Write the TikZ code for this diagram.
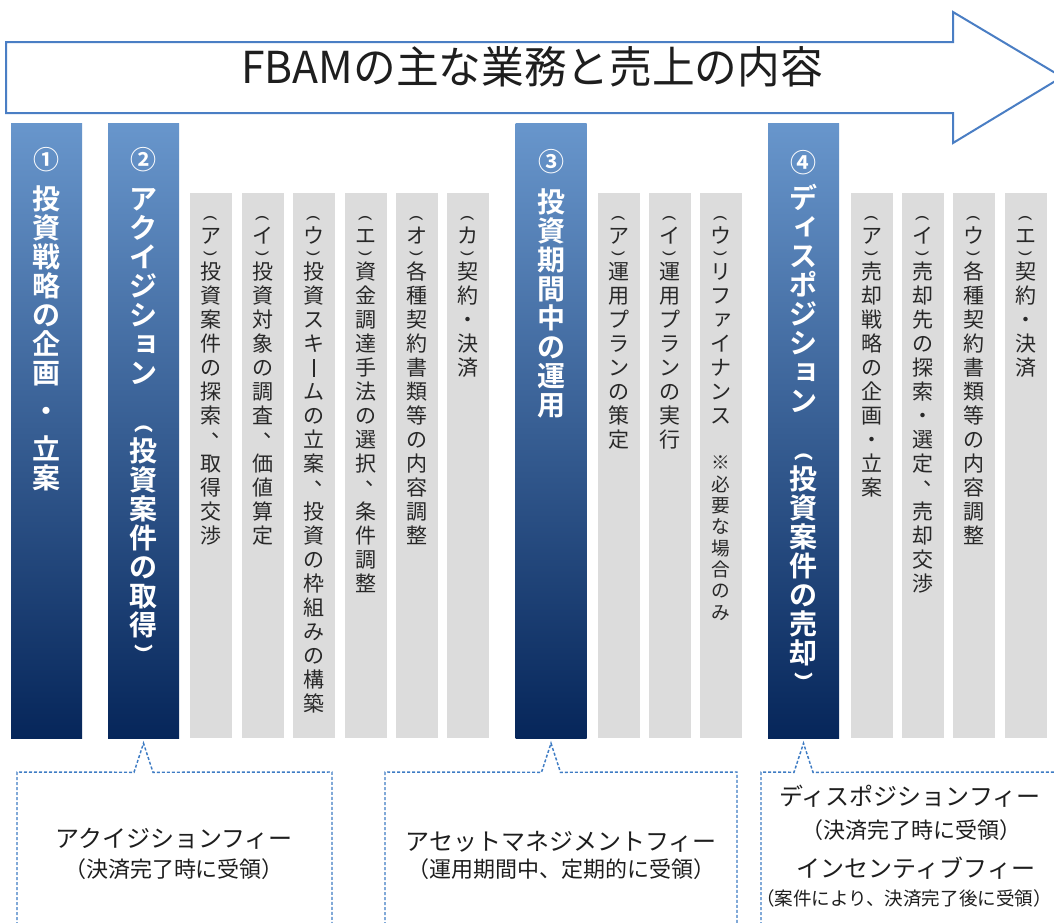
\documentclass[tikz,border=0pt]{standalone}
\usepackage{fontspec}
\usepackage{graphicx}
\usetikzlibrary{calc}
\newfontfamily\jp{Noto Sans CJK JP}
\newfontfamily\jpb{Noto Sans CJK JP Bold}
\definecolor{arrowblue}{RGB}{74,126,196}
\definecolor{dashblue}{RGB}{62,124,196}
\definecolor{coltop}{RGB}{104,150,204}
\definecolor{colbot}{RGB}{6,38,90}
\definecolor{graycol}{RGB}{220,220,220}
\definecolor{graytext}{RGB}{40,40,40}
\definecolor{ink}{RGB}{30,30,30}
\newdimen\vpitch
\newsavebox\vgbox
\def\barwd{0.07em}
% one cell of vertical text: #1 cell height, #2 raise of glyph baseline, #3 glyph
\newcommand\vcell[3]{\hbox to 0pt{\hss\vrule width 0pt height #1 depth 0pt\relax\smash{\raise #2\hbox{#3}}\hss}}
\newcommand\vnorm[1]{\vcell{\vpitch}{\dimexpr0.5\vpitch-0.38em\relax}{#1}}
\newcommand\vbotcell[3]{\sbox\vgbox{#3}\vcell{#1}{\dimexpr#2+\dp\vgbox\relax}{\usebox\vgbox}}
\newcommand\vtopcell[3]{\sbox\vgbox{#3}\vcell{#1}{\dimexpr#1-#2-\ht\vgbox\relax}{\usebox\vgbox}}
% vertical forms
\newcommand\vparenO{\rotatebox{-90}{\scalebox{1}[0.62]{(}}}
\newcommand\vparenC{\rotatebox{-90}{\scalebox{1}[0.62]{)}}}
\newcommand\vO{\vbotcell{0.5\vpitch}{0.1\vpitch}{\vparenO}}
\newcommand\vC{\vtopcell{0.5\vpitch}{0.1\vpitch}{\vparenC}}
\newcommand\vOb{\vbotcell{\vpitch}{0.1\vpitch}{\vparenO}}
\newcommand\vCb{\vtopcell{\vpitch}{0.12\vpitch}{\vparenC}}
\newcommand\vL{\vcell{\vpitch}{\dimexpr0.5\vpitch-0.38em\relax}{\vrule width \barwd height 0.79em depth 0.03em}}
\newcommand\vT{\vcell{\vpitch}{\dimexpr0.5\vpitch+0.12em\relax}{\kern1em 、}}
\newcommand\vsmallkana[1]{\vcell{\vpitch}{\dimexpr0.5\vpitch-0.26em\relax}{\kern0.22em#1}}
\newcommand\vsA{\vsmallkana{ァ}}
\newcommand\vsI{\vsmallkana{ィ}}
\newcommand\vsYo{\vsmallkana{ョ}}
\newcommand\vD{\vcell{1.6\vpitch}{\dimexpr0.8\vpitch-0.38em\relax}{・}}
\newcommand\vG{\vcell{0.7\vpitch}{0pt}{}}
\ExplSyntaxOn
\NewDocumentCommand \vstack { s O{18pt} m }
  {
    \vbox
      {
        \offinterlineskip
        \dim_set:Nn \vpitch {#2}
        \IfBooleanTF {#1} { \def\barwd{0.12em} } { \def\barwd{0.07em} }
        \tl_map_inline:nn {#3}
          {
            \token_if_cs:NTF ##1 { ##1 } { \vnorm {##1} }
          }
      }
  }
\ExplSyntaxOff
\tikzset{
  x=0.75pt, y=-0.75pt,
  arrowline/.style={draw=arrowblue, line width=1.5pt, fill=white, line join=miter},
  bluecol/.style={shade, top color=coltop, bottom color=colbot, inner sep=0pt,
    minimum width={71*0.75pt}, minimum height={615*0.75pt}},
  graycolumn/.style={fill=graycol, inner sep=0pt,
    minimum width={42*0.75pt}, minimum height={545*0.75pt}},
  numtxt/.style={inner sep=0pt, text=white, font=\jpb\fontsize{19.5pt}{20pt}\selectfont},
  bluetxt/.style={anchor=north, inner sep=0pt, text=white,
    font=\jpb\fontsize{21pt}{21pt}\selectfont},
  graytxt/.style={anchor=north, inner sep=0pt, text=graytext,
    font=\jp\fontsize{15.75pt}{16pt}\selectfont},
  notetxt/.style={anchor=north, inner sep=0pt, text=graytext,
    font=\jp\fontsize{14pt}{14pt}\selectfont},
  callout/.style={draw=dashblue, line width=1.1pt, dash pattern=on 2.25pt off 1.5pt},
  titletxt/.style={inner sep=0pt, text=ink, text height=0.88em, text depth=0.12em,
    font=\jp\fontsize{33pt}{34pt}\selectfont},
  feemain/.style={inner sep=0pt, text=ink, text height=0.88em, text depth=0.12em,
    font=\jp\fontsize{18pt}{19pt}\selectfont},
  feesub/.style={inner sep=0pt, text=ink, text height=0.88em, text depth=0.12em,
    font=\jp\fontsize{16.5pt}{17pt}\selectfont},
}
\begin{document}
\begin{tikzpicture}
\useasboundingbox (0,0) rectangle (1054,922);
\clip (0,0) rectangle (1054,922);
\fill[white] (0,0) rectangle (1054,922);

% big arrow with title
\draw[arrowline] (6,42) -- (953,42) -- (953,12) -- (1062,77) -- (953,143) -- (953,113) -- (6,113) -- cycle;
\node[titletxt] (ttl) at (532,78) {\scalebox{0.97}[1]{FBAMの主な業務と売上の内容}};

% blue phase columns
\node[bluecol] (c1) at (46.5,430.5) {};
\node[bluecol] (c2) at (143.5,430.5) {};
\node[bluecol] (c3) at (551,430.5) {};
\node[bluecol] (c4) at (803.5,430.5) {};

% gray task columns
\foreach \nm/\xx in {g2a/211,g2b/263,g2c/314,g2d/365.5,g2e/417,g2f/468,
                     g3a/618.5,g3b/670,g3c/721,
                     g4a/871.5,g4b/923,g4c/974,g4d/1026}
  \node[graycolumn] (\nm) at (\xx,465.5) {};

% phase labels
\node[numtxt] (n1) at ($(c1.north)+(0,37)$) {①};
\node[numtxt] (n2) at ($(c2.north)+(0,37)$) {②};
\node[numtxt] (n3) at ($(c3.north)+(0,39)$) {③};
\node[numtxt] (n4) at ($(c4.north)+(0,40)$) {④};
\node[bluetxt] (t1) at ($(c1.north)+(0,61.5)$) {\vstack*[21.75pt]{投資戦略の企画\vD 立案}};
\node[bluetxt] (t2) at ($(c2.north)+(0,61.5)$) {\vstack*[21.75pt]{アクイジシ\vsYo ン\vG\vOb 投資案件の取得\vCb}};
\node[bluetxt] (t3) at ($(c3.north)+(0,64.5)$) {\vstack*[21.75pt]{投資期間中の運用}};
\node[bluetxt] (t4) at ($(c4.north)+(0,60.5)$) {\vstack*[21.75pt]{デ\vsI スポジシ\vsYo ン\vG\vOb 投資案件の売却\vCb}};

% task labels
\node[graytxt] (s2a) at ($(g2a.north)+(0,19)$) {\vstack{\vO ア\vC 投資案件の探索\vT 取得交渉}};
\node[graytxt] (s2b) at ($(g2b.north)+(0,19)$) {\vstack{\vO イ\vC 投資対象の調査\vT 価値算定}};
\node[graytxt] (s2c) at ($(g2c.north)+(0,19)$) {\vstack{\vO ウ\vC 投資スキ\vL ムの立案\vT 投資の枠組みの構築}};
\node[graytxt] (s2d) at ($(g2d.north)+(0,19)$) {\vstack{\vO エ\vC 資金調達手法の選択\vT 条件調整}};
\node[graytxt] (s2e) at ($(g2e.north)+(0,19)$) {\vstack{\vO オ\vC 各種契約書類等の内容調整}};
\node[graytxt] (s2f) at ($(g2f.north)+(0,19)$) {\vstack{\vO カ\vC 契約・決済}};
\node[graytxt] (s3a) at ($(g3a.north)+(0,19)$) {\vstack{\vO ア\vC 運用プランの策定}};
\node[graytxt] (s3b) at ($(g3b.north)+(0,19)$) {\vstack{\vO イ\vC 運用プランの実行}};
\node[graytxt] (s3c) at ($(g3c.north)+(0,19)$) {\vstack{\vO ウ\vC リフ\vsA イナンス}};
\node[notetxt] (s3n) at ($(g3c.north)+(0,259)$) {\vstack[16pt]{※必要な場合のみ}};
\node[graytxt] (s4a) at ($(g4a.north)+(0,19)$) {\vstack{\vO ア\vC 売却戦略の企画・立案}};
\node[graytxt] (s4b) at ($(g4b.north)+(0,19)$) {\vstack{\vO イ\vC 売却先の探索・選定\vT 売却交渉}};
\node[graytxt] (s4c) at ($(g4c.north)+(0,19)$) {\vstack{\vO ウ\vC 各種契約書類等の内容調整}};
\node[graytxt] (s4d) at ($(g4d.north)+(0,19)$) {\vstack{\vO エ\vC 契約・決済}};

% fee callouts
\coordinate (a2) at ($(c2.south)+(0,5)$);
\coordinate (a3) at ($(c3.south)+(0,5)$);
\coordinate (a4) at ($(c4.south)+(0,5)$);
\draw[callout] (17,940) -- (17,772) -- ($(a2)+(-9.5,29)$) -- (a2) -- ($(a2)+(9.5,29)$) -- (332,772) -- (332,940);
\draw[callout] (385,940) -- (385,772) -- ($(a3)+(-9.5,29)$) -- (a3) -- ($(a3)+(9.5,29)$) -- (737,772) -- (737,940);
\draw[callout] (761,940) -- (761,772) -- ($(a4)+(-9.5,29)$) -- (a4) -- ($(a4)+(9.5,29)$) -- (1070,772) -- (1070,940);

\node[feemain] (f1) at (174,842) {アクイジションフィー};
\node[feesub] (f1s) at (174,872) {（決済完了時に受領）};
\node[feemain] (f2) at (561,845) {アセットマネジメントフィー};
\node[feesub] (f2s) at (561,872) {（運用期間中、定期的に受領）};
\node[feemain] (f3) at (910,800) {ディスポジションフィー};
\node[feesub] (f3s) at (911,833) {（決済完了時に受領）};
\node[feemain] (f4) at (916,872) {インセンティブフィー};
\node[feesub, font=\jp\fontsize{13.9pt}{15pt}\selectfont] (f4s) at (904,900) {（案件により、決済完了後に受領）};
\end{tikzpicture}
\end{document}
